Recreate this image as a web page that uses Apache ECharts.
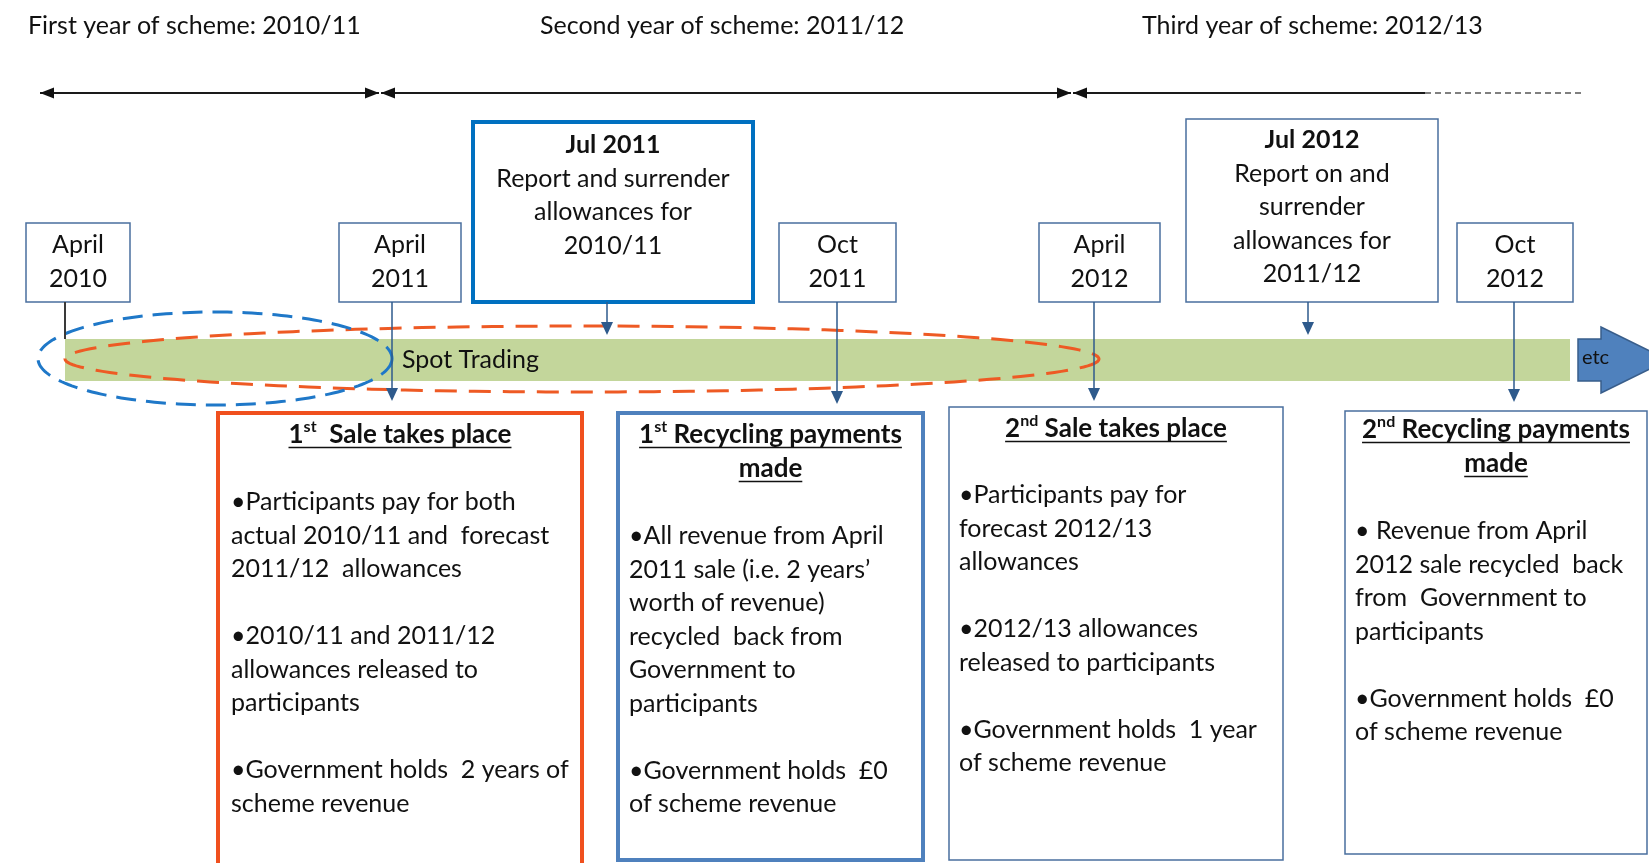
<!DOCTYPE html>
<html><head><meta charset="utf-8">
<script src="https://cdn.jsdelivr.net/npm/echarts@6/dist/echarts.min.js"></script>
<style>html,body{margin:0;padding:0;background:#fff}#c{width:1649px;height:863px}</style>
</head><body><div id="c"></div>
<script>
// ---------- DATA ----------
const yearLabels = ['First year of scheme: 2010/11', 'Second year of scheme: 2011/12', 'Third year of scheme: 2012/13'];
const dateLabels = [['April', '2010'], ['April', '2011'], ['Oct', '2011'], ['April', '2012'], ['Oct', '2012']];
const reportTitles = ['Jul 2011', 'Jul 2012'];
const reportLines = [
  ['Report and surrender', 'allowances for', '2010/11'],
  ['Report on and', 'surrender', 'allowances for', '2011/12']
];
const spotLabel = 'Spot Trading';
const etcLabel = 'etc';
const detailTitles = [
  [['1', 'st', '  Sale takes place']],
  [['1', 'st', ' Recycling payments'], ['made', '', '']],
  [['2', 'nd', ' Sale takes place']],
  [['2', 'nd', ' Recycling payments'], ['made', '', '']]
];
const detailLines = [
  ['\u2022Participants pay for both', 'actual 2010/11 and  forecast', '2011/12  allowances', '',
   '\u20222010/11 and 2011/12', 'allowances released to', 'participants', '',
   '\u2022Government holds  2 years of', 'scheme revenue'],
  ['\u2022All revenue from April', '2011 sale (i.e. 2 years\u2019', 'worth of revenue)', 'recycled  back from',
   'Government to', 'participants', '', '\u2022Government holds  \u00a30', 'of scheme revenue'],
  ['\u2022Participants pay for', 'forecast 2012/13', 'allowances', '',
   '\u20222012/13 allowances', 'released to participants', '',
   '\u2022Government holds  1 year', 'of scheme revenue'],
  ['\u2022 Revenue from April', '2012 sale recycled  back', 'from  Government to', 'participants', '',
   '\u2022Government holds  \u00a30', 'of scheme revenue']
];

// ---------- LAYOUT / STYLE ----------
const FAMILY = 'Lato, "Liberation Sans", sans-serif';
const FS = 25;
const FS_TITLE = 26;
const TXT = '#111111';
const LINE_STEP = 33.5;
const yearLayout = { xs: [28, 540, 1142], y: 26, arrowY: 93,
  segs: [[40, 379, true, true], [381, 1071, true, true], [1073, 1425, true, false]], dashEnd: 1581 };
const dateLayout = [
  { x0: 26, x1: 130, lineX: 65, end: 339, head: false },
  { x0: 339, x1: 461, lineX: 392, end: 401, head: true },
  { x0: 779, x1: 896, lineX: 837, end: 404, head: true },
  { x0: 1039, x1: 1160, lineX: 1094, end: 401, head: true },
  { x0: 1457, x1: 1573, lineX: 1514, end: 402, head: true }
];
const dateBoxY = [223, 302], dateTextY = [245, 279];
const reportLayout = [
  { x0: 473, x1: 753, y0: 122, y1: 302, stroke: '#0070C0', lw: 4, lineX: 607, end: 335, ty: 145 },
  { x0: 1186, x1: 1438, y0: 119, y1: 302, stroke: '#4A6F9E', lw: 1.5, lineX: 1308, end: 335, ty: 140 }
];
const bar = { x0: 65, x1: 1570, y0: 339, y1: 381, color: '#C3D69B' };
const detailLayout = [
  { x0: 218, x1: 582, y0: 413, y1: 900, stroke: '#F0501E', lw: 4, ty: 435, bx: 231, by: 502 },
  { x0: 618, x1: 923, y0: 413, y1: 860, stroke: '#4F81BD', lw: 4, ty: 435, bx: 629, by: 536 },
  { x0: 949, x1: 1283, y0: 407, y1: 860, stroke: '#4A6F9E', lw: 1.5, ty: 429, bx: 959, by: 495 },
  { x0: 1345, x1: 1647, y0: 411, y1: 854, stroke: '#4A6F9E', lw: 1.5, ty: 430, bx: 1355, by: 531 }
];

// ---------- HELPERS ----------
const mctx = document.createElement('canvas').getContext('2d');
function fontStr(size, weight) { return (weight || 'normal') + ' ' + size + 'px ' + FAMILY; }
function measure(str, size, weight) { mctx.font = fontStr(size, weight); return mctx.measureText(str).width; }
const els = [];
function text(x, y, str, o) {
  o = o || {};
  els.push({ type: 'text', z: o.z || 10, silent: true, style: {
    text: str, x: x, y: y, fill: o.color || TXT, font: fontStr(o.size || FS, o.weight),
    align: o.align || 'left', verticalAlign: 'middle', textAlign: o.align || 'left', textVerticalAlign: 'middle' } });
}
function rect(x0, y0, x1, y1, stroke, lw, fill, z) {
  els.push({ type: 'rect', z: z || 5, silent: true, shape: { x: x0, y: y0, width: x1 - x0, height: y1 - y0 },
    style: { fill: fill || '#fff', stroke: stroke || null, lineWidth: lw || 0 } });
}
function line(x0, y0, x1, y1, color, lw, dash, z) {
  els.push({ type: 'line', z: z || 6, silent: true, shape: { x1: x0, y1: y0, x2: x1, y2: y1 },
    style: { stroke: color, lineWidth: lw, lineDash: dash || null } });
}
function poly(points, fill, z, stroke, lw) {
  els.push({ type: 'polygon', z: z || 6, silent: true, shape: { points: points },
    style: { fill: fill, stroke: stroke || null, lineWidth: lw || 0 } });
}
function ellipse(cx, cy, rx, ry, color, lw, dash, z) {
  const pts = [];
  for (let i = 0; i < 180; i++) { const t = i / 180 * Math.PI * 2; pts.push([cx + rx * Math.cos(t), cy + ry * Math.sin(t)]); }
  els.push({ type: 'polygon', z: z || 4, silent: true, shape: { points: pts },
    style: { fill: null, stroke: color, lineWidth: lw, lineDash: dash } });
}
function downArrow(x, y0, y1, color) {
  line(x, y0, x, y1 - 10, color, 1.5, null, 7);
  poly([[x - 6, y1 - 13], [x + 6, y1 - 13], [x, y1]], color, 7);
}

// ---------- BUILD ----------
yearLabels.forEach((s, i) => text(yearLayout.xs[i], yearLayout.y, s));
const ay = yearLayout.arrowY;
yearLayout.segs.forEach(sg => {
  line(sg[0], ay, sg[1], ay, '#1a1a1a', 2);
  if (sg[2]) poly([[sg[0], ay], [sg[0] + 14, ay - 5.5], [sg[0] + 14, ay + 5.5]], '#111');
  if (sg[3]) poly([[sg[1], ay], [sg[1] - 14, ay - 5.5], [sg[1] - 14, ay + 5.5]], '#111');
});
line(1425, ay, yearLayout.dashEnd, ay, '#555', 1.5, [6, 4]);

rect(bar.x0, bar.y0, bar.x1, bar.y1, null, 0, bar.color, 2);
text(402, 360, spotLabel, { z: 3 });
poly([[1578, 339], [1601, 339], [1601, 327], [1668, 360], [1601, 393], [1601, 381], [1578, 381]], '#4F81BD', 3, '#385D8A', 1.5);
text(1582, 358, etcLabel, { size: 20, z: 4 });

ellipse(582, 359, 517, 33, '#EE5A24', 3, [22, 12], 4);
ellipse(215, 358.5, 177, 46.5, '#1F78C8', 3, [20, 10], 4);

dateLabels.forEach((lb, i) => {
  const d = dateLayout[i];
  rect(d.x0, dateBoxY[0], d.x1, dateBoxY[1], '#4A6F9E', 1.5, '#fff', 5);
  const cx = (d.x0 + d.x1) / 2;
  text(cx, dateTextY[0], lb[0], { align: 'center' });
  text(cx, dateTextY[1], lb[1], { align: 'center' });
  if (d.head) downArrow(d.lineX, dateBoxY[1], d.end, '#2E5A8C');
  else line(d.lineX, dateBoxY[1], d.lineX, d.end, '#3a3a3a', 2, null, 7);
});

reportTitles.forEach((t, i) => {
  const r = reportLayout[i];
  rect(r.x0, r.y0, r.x1, r.y1, r.stroke, r.lw, '#fff', 5);
  const cx = (r.x0 + r.x1) / 2;
  text(cx, r.ty, t, { align: 'center', weight: 'bold' });
  reportLines[i].forEach((s, j) => text(cx, r.ty + (j + 1) * LINE_STEP, s, { align: 'center' }));
  downArrow(r.lineX, r.y1, r.end, '#2E5A8C');
});

detailTitles.forEach((tl, i) => {
  const b = detailLayout[i];
  rect(b.x0, b.y0, b.x1, b.y1, b.stroke, b.lw, '#fff', 5);
  const cx = (b.x0 + b.x1) / 2;
  tl.forEach((seg, j) => {
    const y = b.ty + j * 34;
    const w0 = measure(seg[0], FS_TITLE, 'bold'), w1 = seg[1] ? measure(seg[1], 16, 'bold') : 0, w2 = seg[2] ? measure(seg[2], FS_TITLE, 'bold') : 0;
    const tot = w0 + w1 + w2;
    let x = cx - tot / 2;
    text(x, y, seg[0], { weight: 'bold', size: FS_TITLE });
    if (seg[1]) text(x + w0, y - 8, seg[1], { weight: 'bold', size: 16 });
    if (seg[2]) text(x + w0 + w1, y, seg[2], { weight: 'bold', size: FS_TITLE });
    line(x, y + 12.5, x + tot, y + 12.5, '#111', 1.6, null, 11);
  });
  detailLines[i].forEach((s, j) => { if (s) text(b.bx, b.by + j * LINE_STEP, s); });
});

const chart = echarts.init(document.getElementById('c'), null, { renderer: 'canvas' });
chart.setOption({ backgroundColor: '#ffffff', animation: false, graphic: { elements: els } });
</script>
</body></html>
